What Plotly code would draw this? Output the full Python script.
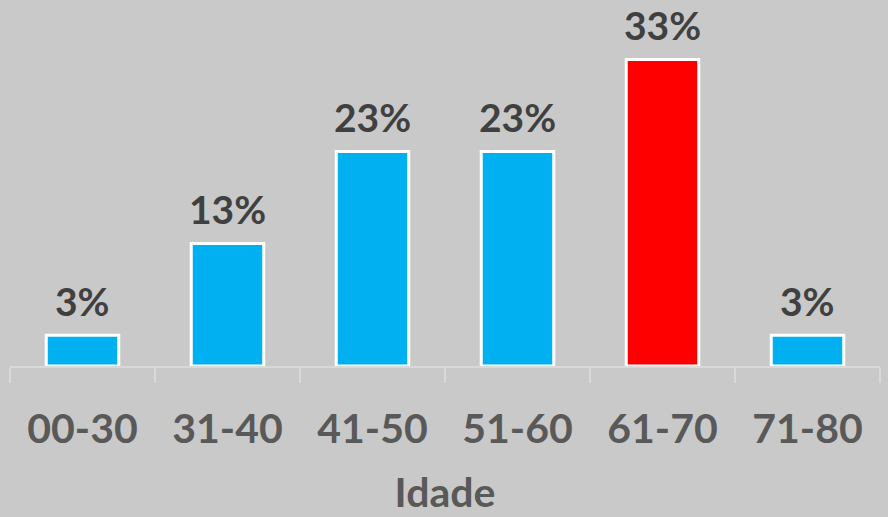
import plotly.graph_objects as go

categories = ["00-30", "31-40", "41-50", "51-60", "61-70", "71-80"]
values = [3.33, 13.33, 23.33, 23.33, 33.33, 3.33]
labels = ["3%", "13%", "23%", "23%", "33%", "3%"]
colors = ["#00B0F0", "#00B0F0", "#00B0F0", "#00B0F0", "#FF0000", "#00B0F0"]

FONT = "Lato"

fig = go.Figure(
    go.Bar(
        x=categories,
        y=values,
        marker=dict(color=colors, line=dict(color="#FFFFFF", width=3)),
        width=0.5,
        hoverinfo="skip",
    )
)

for c, v, t in zip(categories, values, labels):
    fig.add_annotation(
        x=c, y=v, text=t, showarrow=False, yanchor="bottom", yshift=10,
        borderpad=0,
        font=dict(family=FONT, size=39, color="#404040", weight="bold"),
    )

fig.update_layout(
    width=888,
    height=517,
    paper_bgcolor="#C9C9C9",
    plot_bgcolor="#C9C9C9",
    margin=dict(l=10, r=8, t=10, b=151),
    showlegend=False,
    xaxis=dict(
        type="category",
        showline=True,
        linecolor="#D9D9D9",
        linewidth=2,
        ticks="outside",
        tickson="boundaries",
        ticklen=15,
        tickwidth=2,
        tickcolor="#D9D9D9",
        ticklabelstandoff=26,
        tickfont=dict(family=FONT, size=41, color="#595959", weight="bold"),
        title=dict(text="Idade", font=dict(family=FONT, size=41, color="#595959", weight="bold"), standoff=27),
        showgrid=False,
    ),
    yaxis=dict(
        range=[0, 38.7],
        visible=False,
        showgrid=False,
        zeroline=False,
    ),
)

fig.write_html("out.html")
